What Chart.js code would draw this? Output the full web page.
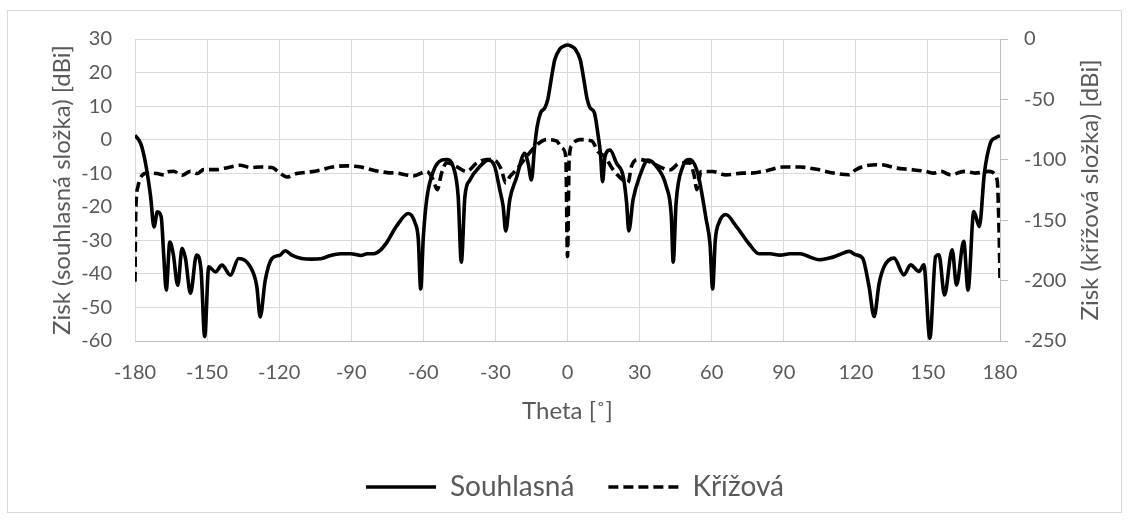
<!DOCTYPE html>
<html>
<head>
<meta charset="utf-8">
<script src="https://cdn.jsdelivr.net/npm/chart.js@4.4.1/dist/chart.umd.min.js"></script>
<style>
  html, body { margin: 0; padding: 0; background: #fff; }
  #wrap { position: relative; width: 1130px; height: 521px; }
  #frame { position: absolute; left: 7px; top: 10px; width: 1115px; height: 503px;
           border: 1px solid #d9d9d9; box-sizing: border-box; }
  #chart { position: absolute; left: 0; top: 0; }
</style>
</head>
<body>
<div id="wrap">
  <div id="frame"></div>
  <canvas id="chart" width="1130" height="521"></canvas>
</div>
<script>
// ─── Data ──────────────────────────────────────────────────────
const thetaCo = [
  -180, -177.6, -175.6, -173.5, -172.1, -170.7, -169.1, -168, -167, -165.5,
  -164.1, -162.2, -160.4, -159, -156.9, -154.4, -152.5, -151, -149.3, -146.5,
  -143.8, -140.3, -136.9, -132, -129.3, -127.9, -125.8, -123, -119.6, -117.5,
  -114.7, -110.6, -106.5, -102.8, -98.6, -94.4, -90.3, -86, -83.3, -80.6,
  -78, -75.2, -71.1, -66.2, -63.5, -62.1, -61.1, -60, -58.6, -55.9,
  -52.4, -50.3, -47.6, -45.5, -44.2, -42.7, -40.6, -36.5, -33, -30.3,
  -28.2, -26.8, -25.7, -24, -21.3, -17.8, -16.4, -15, -13.7, -12.6,
  -11.2, -9.4, -8.2, -6.6, -5.3, -3.2, -1.5, 0, 1.5, 3.2, 5.3, 6.6,
  8.2, 9.4, 11.2, 12.6, 13.7, 14.6, 15.6, 17.7, 20.4, 23.2,
  24.6, 25.5, 27.3, 30, 33.5, 37, 41.1, 43.2, 44, 45.2,
  48, 50.8, 54.2, 57.7, 59.3, 60.4, 61.5, 63.2, 65.9, 70.1,
  75.6, 79.7, 84.3, 88.5, 92.6, 96.8, 101, 104.8, 109, 113.1,
  117.2, 120, 122.8, 125.5, 127.6, 129.7, 131.8, 135.9, 140, 142.8,
  146.3, 148.3, 150.8, 153.2, 154.6, 156.9, 160.1, 161.9, 164.9, 166.7,
  169.1, 171.4, 173.5, 176, 178, 180
];
const gainCo = [
  1.3, -1.2, -7.1, -17, -26, -21.5, -23, -35, -44.8, -30.5,
  -34, -43.4, -32.4, -35.4, -45.8, -34.4, -38.9, -58.7, -37.9, -39.4,
  -37.4, -40.4, -35.4, -37.9, -43.8, -52.8, -41.9, -35.4, -34.4, -33.1,
  -34.4, -35.4, -35.6, -35.5, -34.5, -34, -34, -34.5, -34, -34,
  -33, -30.6, -25.7, -22, -24.7, -29.6, -44.5, -29, -17.8, -9.5,
  -6.1, -5.9, -8, -16.9, -36.5, -17, -12, -8, -6.1, -8,
  -14.9, -19.8, -27.2, -17.8, -11.5, -4.1, -7, -12, -2.2, 4,
  8, 9.5, 12, 18.8, 23.8, 27, 27.9, 28.2, 27.9, 27, 23.8, 18.8,
  12, 9.5, 8, 2, -4, -12.5, -5, -3.1, -7, -11,
  -18.8, -27.2, -17.8, -11, -6.1, -8, -13.9, -22.7, -36.5, -18.8,
  -8, -5.9, -10, -23.7, -31, -44.5, -30, -24.5, -22.3, -25.7,
  -31.1, -34, -34, -34.4, -34, -34, -35, -35.8, -35.3, -34.3,
  -33.3, -34.3, -35.3, -43.8, -52.7, -42.8, -37.8, -35.3, -40.3, -37.3,
  -39.3, -37.3, -59.2, -34.8, -34.3, -46.3, -32.8, -43.3, -30.3, -44.8,
  -21.4, -25.9, -10, -1, 0.5, 1.2
];

const thetaCross = [
  -180, -179.7, -178.8, -177, -174.9, -170.7, -168, -166.6, -164, -160.4,
  -156.9, -154.1, -151.4, -145.9, -140.3, -136.2, -132, -127.9, -123, -120.3,
  -116.8, -112.7, -107.1, -103, -98, -92, -86, -80, -75, -71,
  -64.1, -58.6, -55.9, -54.2, -52.4, -50.3, -46.2, -42, -37.9, -33.7,
  -30.3, -27.5, -25.7, -24, -21.3, -17.1, -12.9, -8.7, -4.6, -2.1,
  -0.7, 0, 0.7, 1.8, 5.2, 10.1, 12.8, 15.6, 19, 23.9,
  25.2, 26.6, 29.4, 34.2, 38.3, 42.5, 46.6, 50.8, 52.8, 53.8,
  55.6, 60.4, 65.9, 72.8, 76, 82.9, 89.8, 96.8, 103.7, 110.7,
  117.2, 120, 123, 130.4, 136.8, 143, 149, 152.5, 155.5, 159.4,
  165, 169.7, 175.3, 178.8, 179.6, 180
];
const gainCross = [
  -201, -144.5, -122.5, -112.8, -110.9, -111.4, -112.5, -110, -109.5, -112.8,
  -109.5, -111.4, -108.1, -108.1, -106, -104.5, -106.4, -106, -106.4, -110,
  -114.2, -111.4, -110, -108.5, -106, -105, -106, -109, -110.6, -111,
  -113.3, -109.7, -116.6, -124.7, -111, -102.4, -105.6, -109.7, -102.9, -99.7,
  -100.3, -108.3, -119.2, -114, -108.3, -97.5, -87.9, -83.3, -84.4, -90.6,
  -97.5, -180, -100, -88, -83.3, -84.4, -93.4, -97.5, -108.3, -118,
  -119, -105.6, -99.7, -101.6, -105.6, -108.4, -102.9, -102.4, -113.9, -124.7,
  -109.7, -109.7, -112.5, -111, -111, -109, -106, -106, -107.9, -111,
  -112.4, -108.2, -105.5, -104.1, -106.8, -108.1, -109.6, -111, -109.6, -112.4,
  -109.6, -111, -109.6, -116.5, -158, -198
];

const xTicks = [-180, -150, -120, -90, -60, -30, 0, 30, 60, 90, 120, 150, 180];
const leftTicks = [-60, -50, -40, -30, -20, -10, 0, 10, 20, 30];
const rightTicks = [-250, -200, -150, -100, -50, 0];

const seriesNames = ['Souhlasná', 'Křížová'];
const xTitle = 'Theta [˚]';
const leftTitle = 'Zisk (souhlasná složka) [dBi]';
const rightTitle = 'Zisk (křížová složka) [dBi]';

// ─── Styling ───────────────────────────────────────────────────
const FONT = 'Lato, "Open Sans", sans-serif';
const TEXT = '#595959';
const GRID = '#d9d9d9';
const AXIS = '#bfbfbf';
const LINE_W = 3.6;

Chart.defaults.font.family = FONT;
Chart.defaults.color = TEXT;

function setTicks(values) {
    return scale => { scale.ticks = values.map(v => ({ value: v })); };
}

// right axis title reads bottom-to-top, like the left one
const rightTitlePlugin = {
    id: 'rightTitle',
    afterDraw(chart) {
        const s = chart.scales.y2;
        const c = chart.ctx;
        c.save();
        c.translate(s.right - 20, (s.top + s.bottom) / 2);
        c.rotate(-Math.PI / 2);
        c.font = '24px ' + FONT;
        c.fillStyle = TEXT;
        c.textAlign = 'center';
        c.textBaseline = 'middle';
        c.fillText(rightTitle, 0, 0);
        c.restore();
    }
};

new Chart(document.getElementById('chart'), {
    type: 'line',
    data: {
        datasets: [{
            label: seriesNames[0],
            data: thetaCo.map((t, i) => ({ x: t, y: gainCo[i] })),
            yAxisID: 'y',
            borderColor: '#000',
            borderWidth: LINE_W,
            pointRadius: 0,
            cubicInterpolationMode: 'monotone',
            fill: false
        }, {
            label: seriesNames[1],
            data: thetaCross.map((t, i) => ({ x: t, y: gainCross[i] })),
            yAxisID: 'y2',
            borderColor: '#000',
            borderWidth: LINE_W,
            borderDash: [10, 5],
            pointRadius: 0,
            cubicInterpolationMode: 'monotone',
            fill: false
        }]
    },
    options: {
        responsive: false,
        animation: false,
        layout: { padding: { left: 40, right: 20, top: 39, bottom: 10 } },
        plugins: {
            legend: {
                position: 'bottom',
                labels: {
                    usePointStyle: true,
                    pointStyle: 'line',
                    pointStyleWidth: 70,
                    padding: 34,
                    color: TEXT,
                    font: { size: 28 },
                    // point style drops the dataset dash, so put it back
                    generateLabels: chart => Chart.defaults.plugins.legend.labels.generateLabels(chart)
                        .map((item, i) => Object.assign(item, {
                            lineDash: chart.data.datasets[i].borderDash || [],
                            lineWidth: LINE_W
                        }))
                }
            },
            tooltip: { enabled: false }
        },
        scales: {
            x: {
                type: 'linear',
                min: -180, max: 180,
                afterBuildTicks: setTicks(xTicks),
                afterFit: s => { s.height = 98; },
                grid: { color: GRID, drawTicks: false },
                border: { color: AXIS },
                ticks: { padding: 20, font: { size: 20 }, callback: v => String(v) },
                title: { display: true, text: xTitle, font: { size: 24 }, padding: { top: 0, bottom: 13 } }
            },
            y: {
                position: 'left',
                min: -60, max: 30,
                afterBuildTicks: setTicks(leftTicks),
                afterFit: s => { s.width = 95; },
                grid: { color: GRID, drawTicks: false },
                border: { display: false },
                ticks: { padding: 23, font: { size: 20 }, callback: v => String(v) },
                title: { display: true, text: leftTitle, font: { size: 24 }, padding: { top: 8, bottom: 0 } }
            },
            y2: {
                position: 'right',
                min: -250, max: 0,
                afterBuildTicks: setTicks(rightTicks),
                afterFit: s => { s.width = 110; },
                grid: { drawOnChartArea: false, color: AXIS, tickLength: 8 },
                border: { color: AXIS },
                ticks: { padding: 16, font: { size: 20 }, callback: v => String(v) }
            }
        }
    },
    plugins: [rightTitlePlugin]
});
</script>
</body>
</html>
